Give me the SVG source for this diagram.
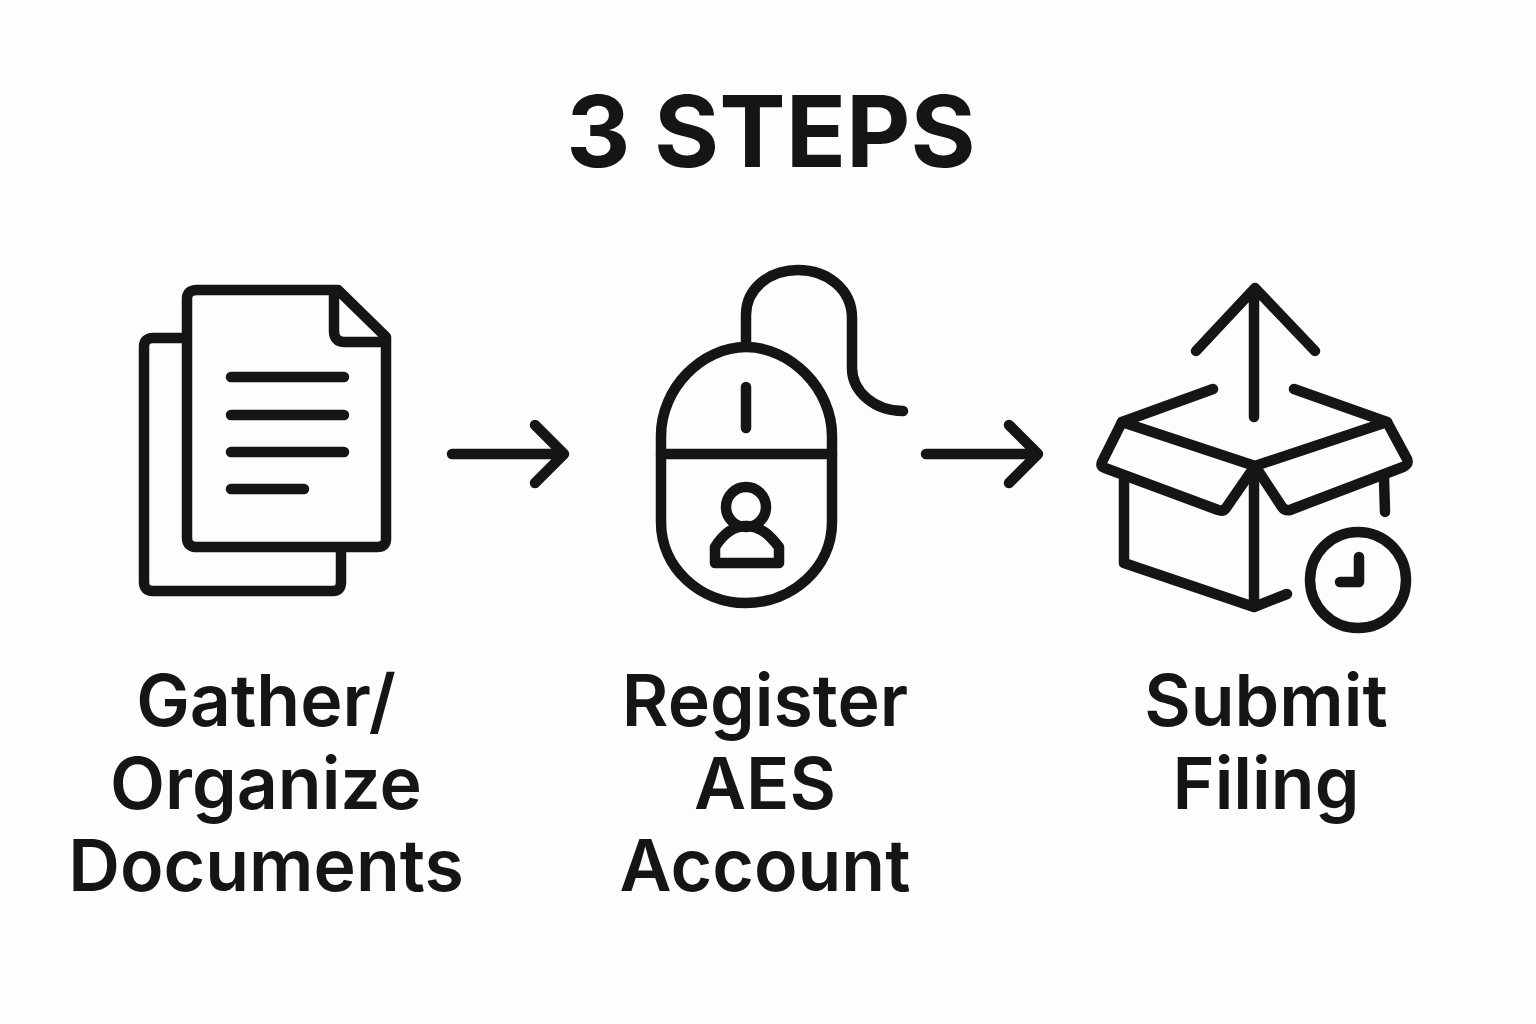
<svg xmlns="http://www.w3.org/2000/svg" width="1536" height="1024" viewBox="0 0 1536 1024">
<style>
.i{fill:none;stroke:#151515;stroke-width:10.5;stroke-linecap:round;stroke-linejoin:round}
.t{font-family:Inter,"Liberation Sans",sans-serif;font-weight:600;font-size:71.6px;fill:#151515;text-anchor:middle}
</style>
<rect width="1536" height="1024" fill="#fdfdfd"/>
<text x="771" y="167" font-family="Inter,'Liberation Sans',sans-serif" font-weight="700" font-size="99.5" fill="#151515" text-anchor="middle">3 STEPS</text>
<g id="node-documents">
<path class="i" d="M186 338H153Q144 338 144 347V582Q144 591 153 591H333Q341 591 341 582V548"/>
<path class="i" d="M197 290H338L386 337V539Q386 547 377 547H197Q187 547 187 538V299Q187 290 197 290Z"/>
<path class="i" d="M334 292V331Q334 342 345 342H385"/>
<path class="i" d="M231 377H344M231 415H344M231 452H344M231 489H304"/>
<text class="t" x="266" y="726">Gather/</text><text class="t" x="266" y="809">Organize</text><text class="t" x="266" y="891">Documents</text>
</g>
<g id="node-register">
<path class="i" d="M661 522V436C661 388 702 347 746 347C790 347 832 388 832 436V522C832 568 792 603 746 603C700 603 661 568 661 522Z"/>
<path class="i" d="M661 454H832M746 387V428"/>
<path class="i" d="M746 345V315C746 288 770 270 798 270C828 270 852 290 852 318V368C852 392 875 411 903 411"/>
<circle class="i" cx="746" cy="507" r="20"/>
<path class="i" d="M715 563H779V547C771 537 762 526 746 526C732 526 722 536 715 547Z"/>
<text class="t" x="765" y="726">Register</text><text class="t" x="765" y="809">AES</text><text class="t" x="765" y="891">Account</text>
</g>
<g id="node-submit">
<path class="i" d="M1254 417V292M1196 351L1255 288L1315 351"/>
<path class="i" d="M1213 389L1122 422L1255 466L1387 422L1294 389"/>
<path class="i" d="M1122 422L1102 462Q1100 467 1105 468L1218 510Q1223 512 1226 508L1255 466L1282 507Q1285 511 1290 510L1403 467Q1409 464 1407 459L1387 422"/>
<path class="i" d="M1124 480V563L1254 607L1287 594M1254 470V605M1384 478L1385 512"/>
<circle class="i" cx="1358" cy="580" r="48"/>
<path class="i" d="M1359 557V582H1340"/>
<text class="t" x="1266" y="726">Submit</text><text class="t" x="1266" y="809">Filing</text>
</g>
<g id="connectors">
<path class="i" d="M452 454H563M535 425L564 454L535 483"/>
<path class="i" d="M926 454H1037M1009 425L1038 454L1009 483"/>
</g>
</svg>
